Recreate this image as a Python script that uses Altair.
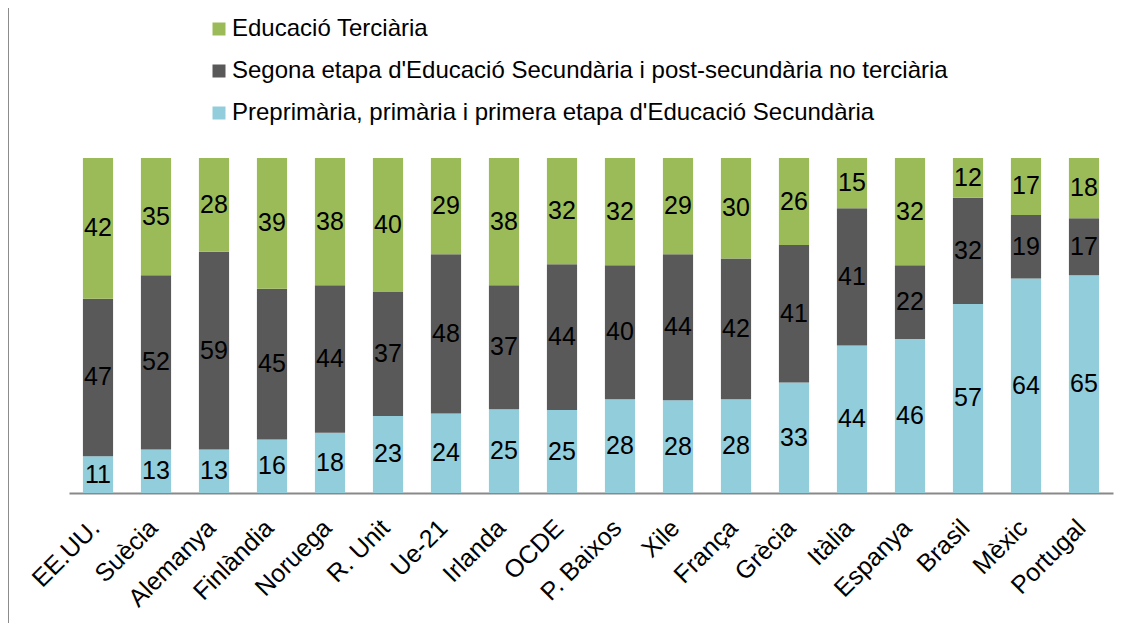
import altair as alt
import pandas as pd

countries = ["EE.UU.", "Suècia", "Alemanya", "Finlàndia", "Noruega", "R. Unit", "Ue-21",
             "Irlanda", "OCDE", "P. Baixos", "Xile", "França", "Grècia", "Itàlia",
             "Espanya", "Brasil", "Mèxic", "Portugal"]
terciaria = [42, 35, 28, 39, 38, 40, 29, 38, 32, 32, 29, 30, 26, 15, 32, 12, 17, 18]
secundaria = [47, 52, 59, 45, 44, 37, 48, 37, 44, 40, 44, 42, 41, 41, 22, 32, 19, 17]
primaria = [11, 13, 13, 16, 18, 23, 24, 25, 25, 28, 28, 28, 33, 44, 46, 57, 64, 65]

series = ["Educació Terciària",
          "Segona etapa d'Educació Secundària i post-secundària no terciària",
          "Preprimària, primària i primera etapa d'Educació Secundària"]
colors = ["#9BBB59", "#595959", "#92CDDC"]

rows = []
for i, c in enumerate(countries):
    rows.append({"country": c, "series": series[2], "value": primaria[i], "ord": 0})
    rows.append({"country": c, "series": series[1], "value": secundaria[i], "ord": 1})
    rows.append({"country": c, "series": series[0], "value": terciaria[i], "ord": 2})
df = pd.DataFrame(rows)

FONT = "Liberation Sans"

base = alt.Chart(df).transform_stack(
    stack="value", groupby=["country"], as_=["y0", "y1"],
    offset="normalize", sort=[alt.SortField("ord", order="ascending")]
).transform_calculate(mid="(datum.y0 + datum.y1) / 2")

xenc = alt.X("country:N", sort=countries, title=None,
             scale=alt.Scale(paddingInner=0.48, paddingOuter=0.24),
             axis=alt.Axis(labelAngle=-45, labelFontSize=25, labelFont=FONT,
                           labelColor="#000000", ticks=False, domainColor="#898989",
                           domainWidth=2, labelPadding=22, labelOffset=-11))

bars = base.mark_bar().encode(
    x=xenc,
    y=alt.Y("y0:Q", axis=None, scale=alt.Scale(domain=[0, 1])),
    y2="y1:Q",
    color=alt.Color("series:N", scale=alt.Scale(domain=series, range=colors),
                    legend=alt.Legend(title=None, orient="none", legendX=138, legendY=-141,
                                      symbolType="square", symbolSize=169,
                                      symbolStrokeWidth=0, labelOffset=1,
                                      labelFontSize=24, labelFont=FONT, labelColor="#000000",
                                      rowPadding=18, labelLimit=1000, symbolOffset=0)),
)

labels = base.mark_text(fontSize=25, font=FONT, color="#000000").encode(
    x=alt.X("country:N", sort=countries),
    y=alt.Y("mid:Q"),
    text="value:Q",
)

border = alt.Chart(pd.DataFrame({"a": [0]})).mark_rule(color="#8c8c8c", strokeWidth=2).encode(
    x=alt.value(-61), y=alt.value(-160), y2=alt.value(480)
)

chart = alt.layer(bars, labels, border).properties(
    width=1044, height=335,
    autosize=alt.AutoSizeParams(type="none"),
    padding={"left": 61, "top": 150, "right": 9, "bottom": 130},
).configure_view(stroke=None)

chart.save("out.html", embed_options={"renderer": "svg", "actions": False})
